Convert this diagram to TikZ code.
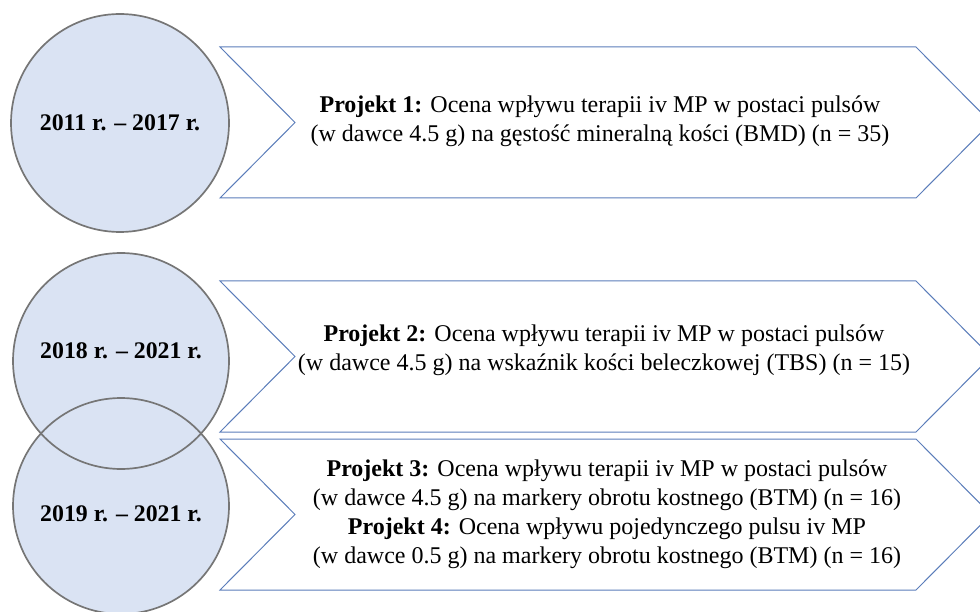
\documentclass[tikz,border=0pt]{standalone}
\usepackage{fontspec}
\setmainfont{Liberation Serif}
\begin{document}
\begin{tikzpicture}[x=1pt,y=-1pt,
  period/.style={draw=circline,line width=1.7pt},
  chev/.style={draw=chevline,line width=1pt,fill=white},
  yeartext/.style={font=\fontsize{23.8}{28}\selectfont\bfseries},
  projtext/.style={font=\fontsize{24}{29}\selectfont,align=center}]
\definecolor{circfill}{HTML}{DAE3F3}
\definecolor{circline}{HTML}{767676}
\definecolor{chevline}{HTML}{5B7DBA}
\useasboundingbox (0,0) rectangle (980,612);
\clip (0,0) rectangle (980,612);
% chevrons: top y, bottom y, notch depth
\newcommand\chevronpath[3]{%
  (220,#1) -- (916,#1) -- (916+#3,{(#1+#2)/2}) -- (916,#2) -- (220,#2) -- (220+#3,{(#1+#2)/2}) -- cycle}
\draw[chev] \chevronpath{47}{198}{75};
\draw[chev] \chevronpath{281}{432}{75};
\draw[chev] \chevronpath{439}{590}{75};
% periods: fills first so that both overlapping outlines stay visible
\fill[circfill] (120,123) circle (109);
\fill[circfill] (121,361) circle (108);
\fill[circfill] (121,506) circle (108);
\draw[period] (120,123) circle (109);
\draw[period] (121,361) circle (108);
\draw[period] (121,506) circle (108);
\node[yeartext] (y1) at (120,123) {2011 r. – 2017 r.};
\node[yeartext] (y2) at (121,351) {2018 r. – 2021 r.};
\node[yeartext] (y3) at (121,514) {2019 r. – 2021 r.};
% project descriptions
\node[projtext] (p1) at (600,121) {\textbf{Projekt 1:} Ocena wpływu terapii iv MP w postaci pulsów\\(w dawce 4.5 g) na gęstość mineralną kości (BMD) (n = 35)};
\node[projtext] (p2) at (604,350) {\textbf{Projekt 2:} Ocena wpływu terapii iv MP w postaci pulsów\\(w dawce 4.5 g) na wskaźnik kości beleczkowej (TBS) (n = 15)};
\node[projtext] (p3) at (607,514) {\textbf{Projekt 3:} Ocena wpływu terapii iv MP w postaci pulsów\\(w dawce 4.5 g) na markery obrotu kostnego (BTM) (n = 16)\\\textbf{Projekt 4:} Ocena wpływu pojedynczego pulsu iv MP\\(w dawce 0.5 g) na markery obrotu kostnego (BTM) (n = 16)};
\end{tikzpicture}
\end{document}
